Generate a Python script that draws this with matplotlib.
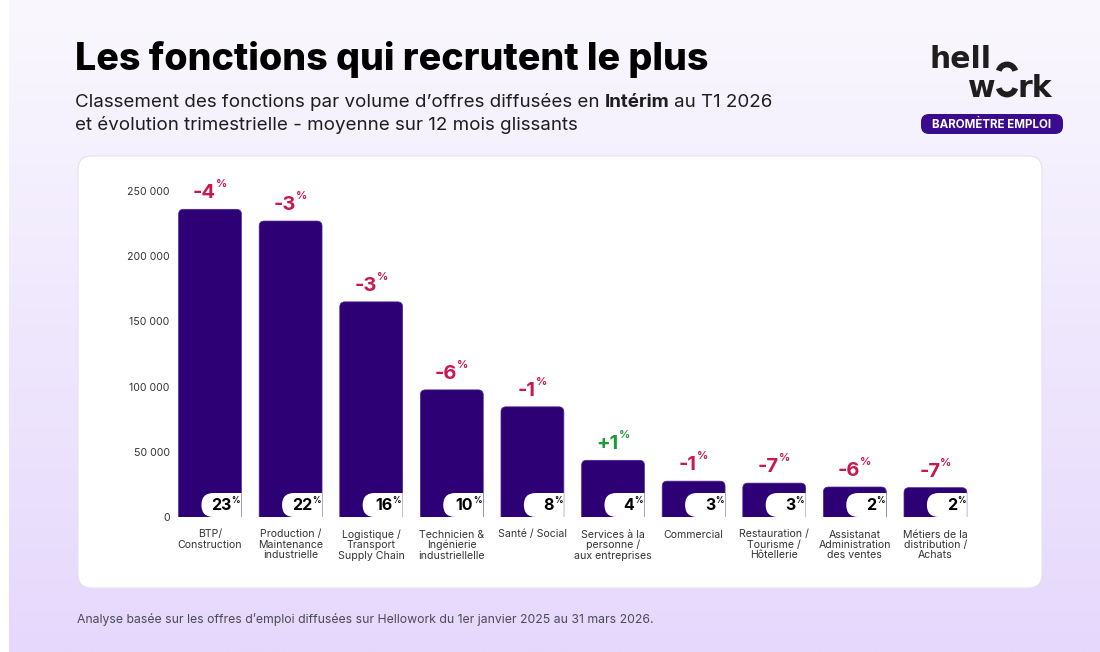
import matplotlib
matplotlib.use('agg')
import matplotlib.pyplot as plt
from matplotlib.patches import FancyBboxPatch, Arc
from matplotlib.colors import LinearSegmentedColormap
from matplotlib.ticker import FuncFormatter
import numpy as np

# données
fonctions = ["BTP/\nConstruction", "Production /\nMaintenance\nindustrielle",
             "Logistique /\nTransport\nSupply Chain", "Technicien &\nIngénierie\nindustriellelle",
             "Santé / Social", "Services à la\npersonne /\naux entreprises", "Commercial",
             "Restauration /\nTourisme /\nHôtellerie", "Assistanat\nAdministration\ndes ventes",
             "Métiers de la\ndistribution /\nAchats"]
offres = [236000, 227000, 165000, 97500, 84500, 43500, 27500, 26000, 23000, 22500]
evolution = [-4, -3, -3, -6, -1, 1, -1, -7, -6, -7]
part = [23, 22, 16, 10, 8, 4, 3, 3, 2, 2]
graduations = [0, 50000, 100000, 150000, 200000, 250000]

VIOLET = '#2e0076'
ROUGE = '#c9174f'
VERT = '#1d9a3a'
POLICE = ['Inter', 'DejaVu Sans']

W, H = 1100, 652
fig = plt.figure(figsize=(W / 100, H / 100), dpi=100)
r = fig.canvas.get_renderer()

# fond en pixels (y vers le bas)
bg = fig.add_axes([0, 0, 1, 1])
fond = LinearSegmentedColormap.from_list('fond', ['#faf8fe', '#efe8fd', '#e6d8fc'])
bg.imshow(np.linspace(0, 1, 256)[:, None], cmap=fond, extent=[9, W, H, 0], aspect='auto')
bg.set_xlim(0, W)
bg.set_ylim(H, 0)
bg.axis('off')

bg.add_patch(FancyBboxPatch((78, 156), 964, 432, boxstyle='round,pad=0,rounding_size=14',
                            fc='white', ec='#e6e0f2', lw=0.8))

# titre (taille ajustée à la largeur du modèle)
titre = bg.text(75, 70, "Les fonctions qui recrutent le plus", fontsize=32, fontweight='heavy',
                family=POLICE, color='black', va='baseline')
largeur = titre.get_window_extent(r).width
titre.set_fontsize(32 * 633 / largeur)


def morceau(x, y, texte, **kw):
    t = bg.text(x, y, texte, va='baseline', **kw)
    return x + t.get_window_extent(r).width


sous = dict(fontsize=13.5, family=POLICE, color='#1e1e1e')
x = morceau(75, 107, "Classement des fonctions par volume d’offres diffusées en", **sous)
x = morceau(x + 5, 107, "Intérim", fontweight='bold', **sous)
morceau(x + 5, 107, "au T1 2026", **sous)
morceau(75, 130, "et évolution trimestrielle - moyenne sur 12 mois glissants", **sous)

# logo
NOIR_LOGO = '#1f1d1d'
logo = dict(fontsize=21.5, fontweight='bold', family='DejaVu Sans', color=NOIR_LOGO, va='baseline')
bg.text(929, 68, "hell", **logo)
bg.text(968, 97, "w", **logo)
bg.text(1018, 97, "rk", **logo)
bg.add_patch(Arc((1007, 73), 17, 17, theta1=195, theta2=345, lw=4.2, color=NOIR_LOGO))
bg.add_patch(Arc((1007, 86), 17, 17, theta1=15, theta2=165, lw=4.2, color=NOIR_LOGO))
bg.add_patch(FancyBboxPatch((921, 114), 142, 20, boxstyle='round,pad=0,rounding_size=8',
                            fc='#3a0b8e', ec='none'))
bg.text(992, 124.5, "BAROMÈTRE EMPLOI", fontsize=8.3, fontweight='bold', family=POLICE,
        color='white', ha='center', va='center')

bg.text(77, 619, "Analyse basée sur les offres d’emploi diffusées sur Hellowork du 1er janvier 2025 au 31 mars 2026.",
        fontsize=8.8, family=POLICE, color='#4a4a55', va='center')

# graphique
gauche, droite, bas, haut = 169.7, 983.8, 517, 178
ax = fig.add_axes([gauche / W, (H - bas) / H, (droite - gauche) / W, (bas - haut) / H])
ax.patch.set_alpha(0)
ax.set_xlim(-0.5, 9.6)
ax.set_ylim(0, 260000)
for s in ax.spines.values():
    s.set_visible(False)

barres = ax.bar(range(len(offres)), offres, width=0.78, color=VIOLET)

# échelle pixels -> données pour arrondir les coins
px_x = (9.6 + 0.5) / (droite - gauche)
px_y = 260000 / (bas - haut)
aspect = px_y / px_x

for i, b in enumerate(barres):
    b.set_visible(False)
    x0, w, h = b.get_x(), b.get_width(), b.get_height()
    forme = FancyBboxPatch((x0, -6 * px_y), w, h + 6 * px_y,
                           boxstyle=f'round,pad=0,rounding_size={5 * px_x}',
                           mutation_aspect=aspect, fc=VIOLET, ec='#4b2a96', lw=0.5)
    ax.add_patch(forme)
    pastille = FancyBboxPatch((x0 + w - 40 * px_x, 0), 70 * px_x, 24 * px_y,
                              boxstyle=f'round,pad=0,rounding_size={12 * px_x}',
                              mutation_aspect=aspect, fc='white', ec='none', zorder=3)
    ax.add_patch(pastille)
    pastille.set_clip_path(forme)

    # part en %
    ax.annotate(str(part[i]), (x0 + w, 0), xytext=(-10, 7), textcoords='offset pixels',
                ha='right', va='baseline', fontsize=11.5, fontweight='bold', family=POLICE,
                color='black', zorder=4)
    ax.annotate('%', (x0 + w, 0), xytext=(-10, 14), textcoords='offset pixels',
                ha='left', va='baseline', fontsize=6, fontweight='bold', family=POLICE,
                color='black', zorder=4)

    # évolution trimestrielle
    coul = VERT if evolution[i] > 0 else ROUGE
    t = ax.annotate(f"{evolution[i]:+d}", (x0 + w / 2, h), xytext=(0, 11), textcoords='offset pixels',
                    ha='left', va='baseline', fontsize=14.5, fontweight='bold', family=POLICE, color=coul)
    p = ax.annotate('%', (x0 + w / 2, h), xytext=(0, 22), textcoords='offset pixels',
                    ha='left', va='baseline', fontsize=8, fontweight='bold', family=POLICE, color=coul)
    wt = t.get_window_extent(r).width
    wp = p.get_window_extent(r).width
    dx = -(wt + wp) / 2
    t.set_position((dx, 11))
    p.set_position((dx + wt, 22))

ax.set_yticks(graduations)
ax.yaxis.set_major_formatter(FuncFormatter(lambda v, _: f"{int(v):,}".replace(',', ' ')))
ax.set_xticks(range(len(fonctions)))
ax.set_xticklabels(fonctions, linespacing=1.05)
ax.tick_params(axis='both', length=0, labelsize=7.6, labelcolor='#333333')
ax.tick_params(axis='x', pad=9)
ax.tick_params(axis='y', pad=0)
for lab in ax.get_xticklabels() + ax.get_yticklabels():
    lab.set_family(POLICE)

fig.savefig('out.png', dpi=100)
